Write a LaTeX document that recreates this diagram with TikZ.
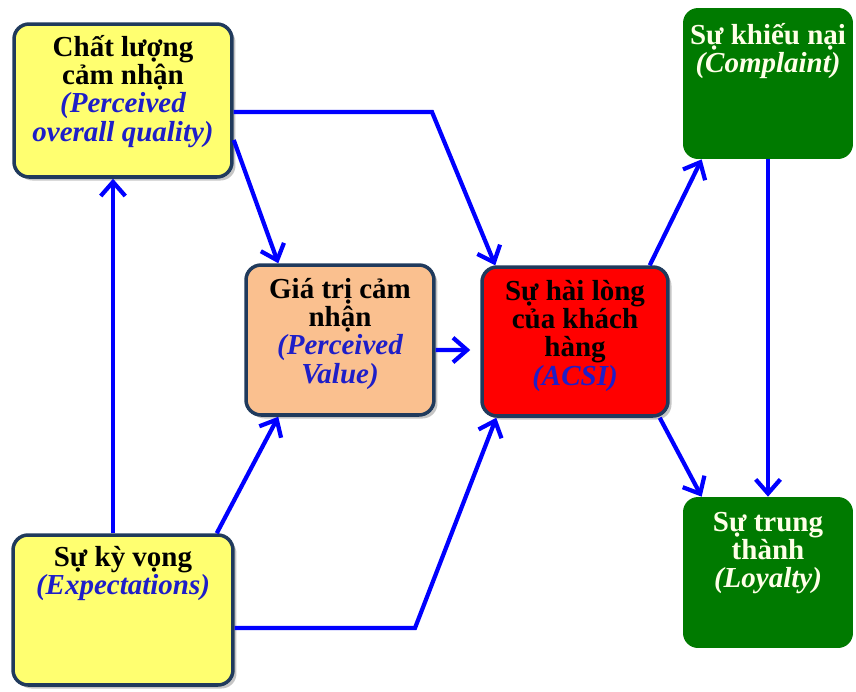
\documentclass[tikz,border=0pt]{standalone}
\usepackage{fontspec}
\setmainfont{Liberation Serif}
\usetikzlibrary{arrows.meta,calc,positioning,shadows}

\definecolor{boxline}{RGB}{32,58,92}
\definecolor{boxyellow}{RGB}{255,255,112}
\definecolor{boxpeach}{RGB}{250,192,143}
\definecolor{boxred}{RGB}{255,0,0}
\definecolor{boxgreen}{RGB}{0,122,0}
\definecolor{engblue}{RGB}{30,30,200}
\definecolor{arrblue}{RGB}{0,0,255}
\definecolor{lighttext}{RGB}{255,255,232}

\newcommand{\eng}[1]{\textit{\color{engblue}#1}}

\tikzset{
	box/.style={draw=boxline, line width=2pt, rounded corners=0.3cm,
		drop shadow={shadow xshift=2pt, shadow yshift=-2pt, fill=black!45, opacity=0.5}},
	greenbox/.style={fill=boxgreen, rounded corners=0.3cm},
	boxtext/.style={align=center, inner sep=0pt, font=\fontsize{16.5}{16}\selectfont\bfseries},
	arr/.style={draw=arrblue, line width=2.4pt, -{Straight Barb[length=8pt,width=14pt]}}
}

\begin{document}
\begin{tikzpicture}[x=0.02cm, y=-0.02cm]
			%%%%% START %%%%%
			\useasboundingbox (0, 0) rectangle (856, 691);
			
			% boxes
			\node[box, fill=boxyellow, minimum width=4.36cm, minimum height=3.06cm] (cq) at (123, 100.5) {};
			\node[box, fill=boxpeach, minimum width=3.76cm, minimum height=3.0cm] (gt) at (340, 340) {};
			\node[box, fill=boxred, minimum width=3.72cm, minimum height=2.98cm] (hl) at (575, 341.5) {};
			\node[greenbox, minimum width=3.4cm, minimum height=3.02cm] (kn) at (768, 83.5) {};
			\node[greenbox, minimum width=3.4cm, minimum height=3.02cm] (tt) at (768, 572.5) {};
			\node[box, fill=boxyellow, minimum width=4.4cm, minimum height=3.0cm] (kv) at (123, 610) {};
			
			% texts
			\node[boxtext, below=0.26cm of cq.north] (cqtext) {Chất lượng\\cảm nhận\\\eng{(Perceived}\\\eng{overall quality)}};
			\node[boxtext, below=0.3cm of gt.north] (gttext) {Giá trị cảm\\nhận\\\eng{(Perceived}\\\eng{Value)}};
			\node[boxtext, below=0.3cm of hl.north] (hltext) {Sự hài lòng\\của khách\\hàng\\\eng{(ACSI)}};
			\node[boxtext, text=lighttext, below=0.3cm of kn.north] (kntext) {Sự khiếu nại\\\textit{(Complaint)}};
			\node[boxtext, text=lighttext, below=0.3cm of tt.north] (tttext) {Sự trung\\thành\\\textit{(Loyalty)}};
			\node[boxtext, below=0.26cm of kv.north] (kvtext) {Sự kỳ vọng\\\eng{(Expectations)}};
			
			% connectors
			\coordinate (bendtop) at (432, 112);
			\coordinate (bendbot) at (415, 628);
			
			\draw[arr] ($(kv.north)+(-10, 0)$) -- ($(cq.south)+(-10, 0)$);
			\draw[arr] (cq.east |- bendtop) -- (bendtop) -- ($(hl.north west)+(15, 0)$);
			\draw[arr] ($(cq.east)+(0, 39.5)$) -- ($(gt.north west)+(34, 0)$);
			\draw[arr] ($(kv.north east)+(-18, 0)$) -- ($(gt.south west)+(34, 0)$);
			\draw[arr] (kv.east |- bendbot) -- (bendbot) -- ($(hl.south west)+(16, 0)$);
			\draw[arr, shorten >=0.2cm] ($(gt.east)+(0, 10)$) -- ($(hl.west)+(0, 8.5)$);
			\draw[arr] ($(hl.north east)+(-20, 0)$) -- ($(kn.south west)+(19, 0)$);
			\draw[arr] ($(hl.south east)+(-10, 0)$) -- ($(tt.north west)+(19, 0)$);
			\draw[arr] (kn.south) -- (tt.north);
			
			%%%%% END %%%%%
\end{tikzpicture}
\end{document}
